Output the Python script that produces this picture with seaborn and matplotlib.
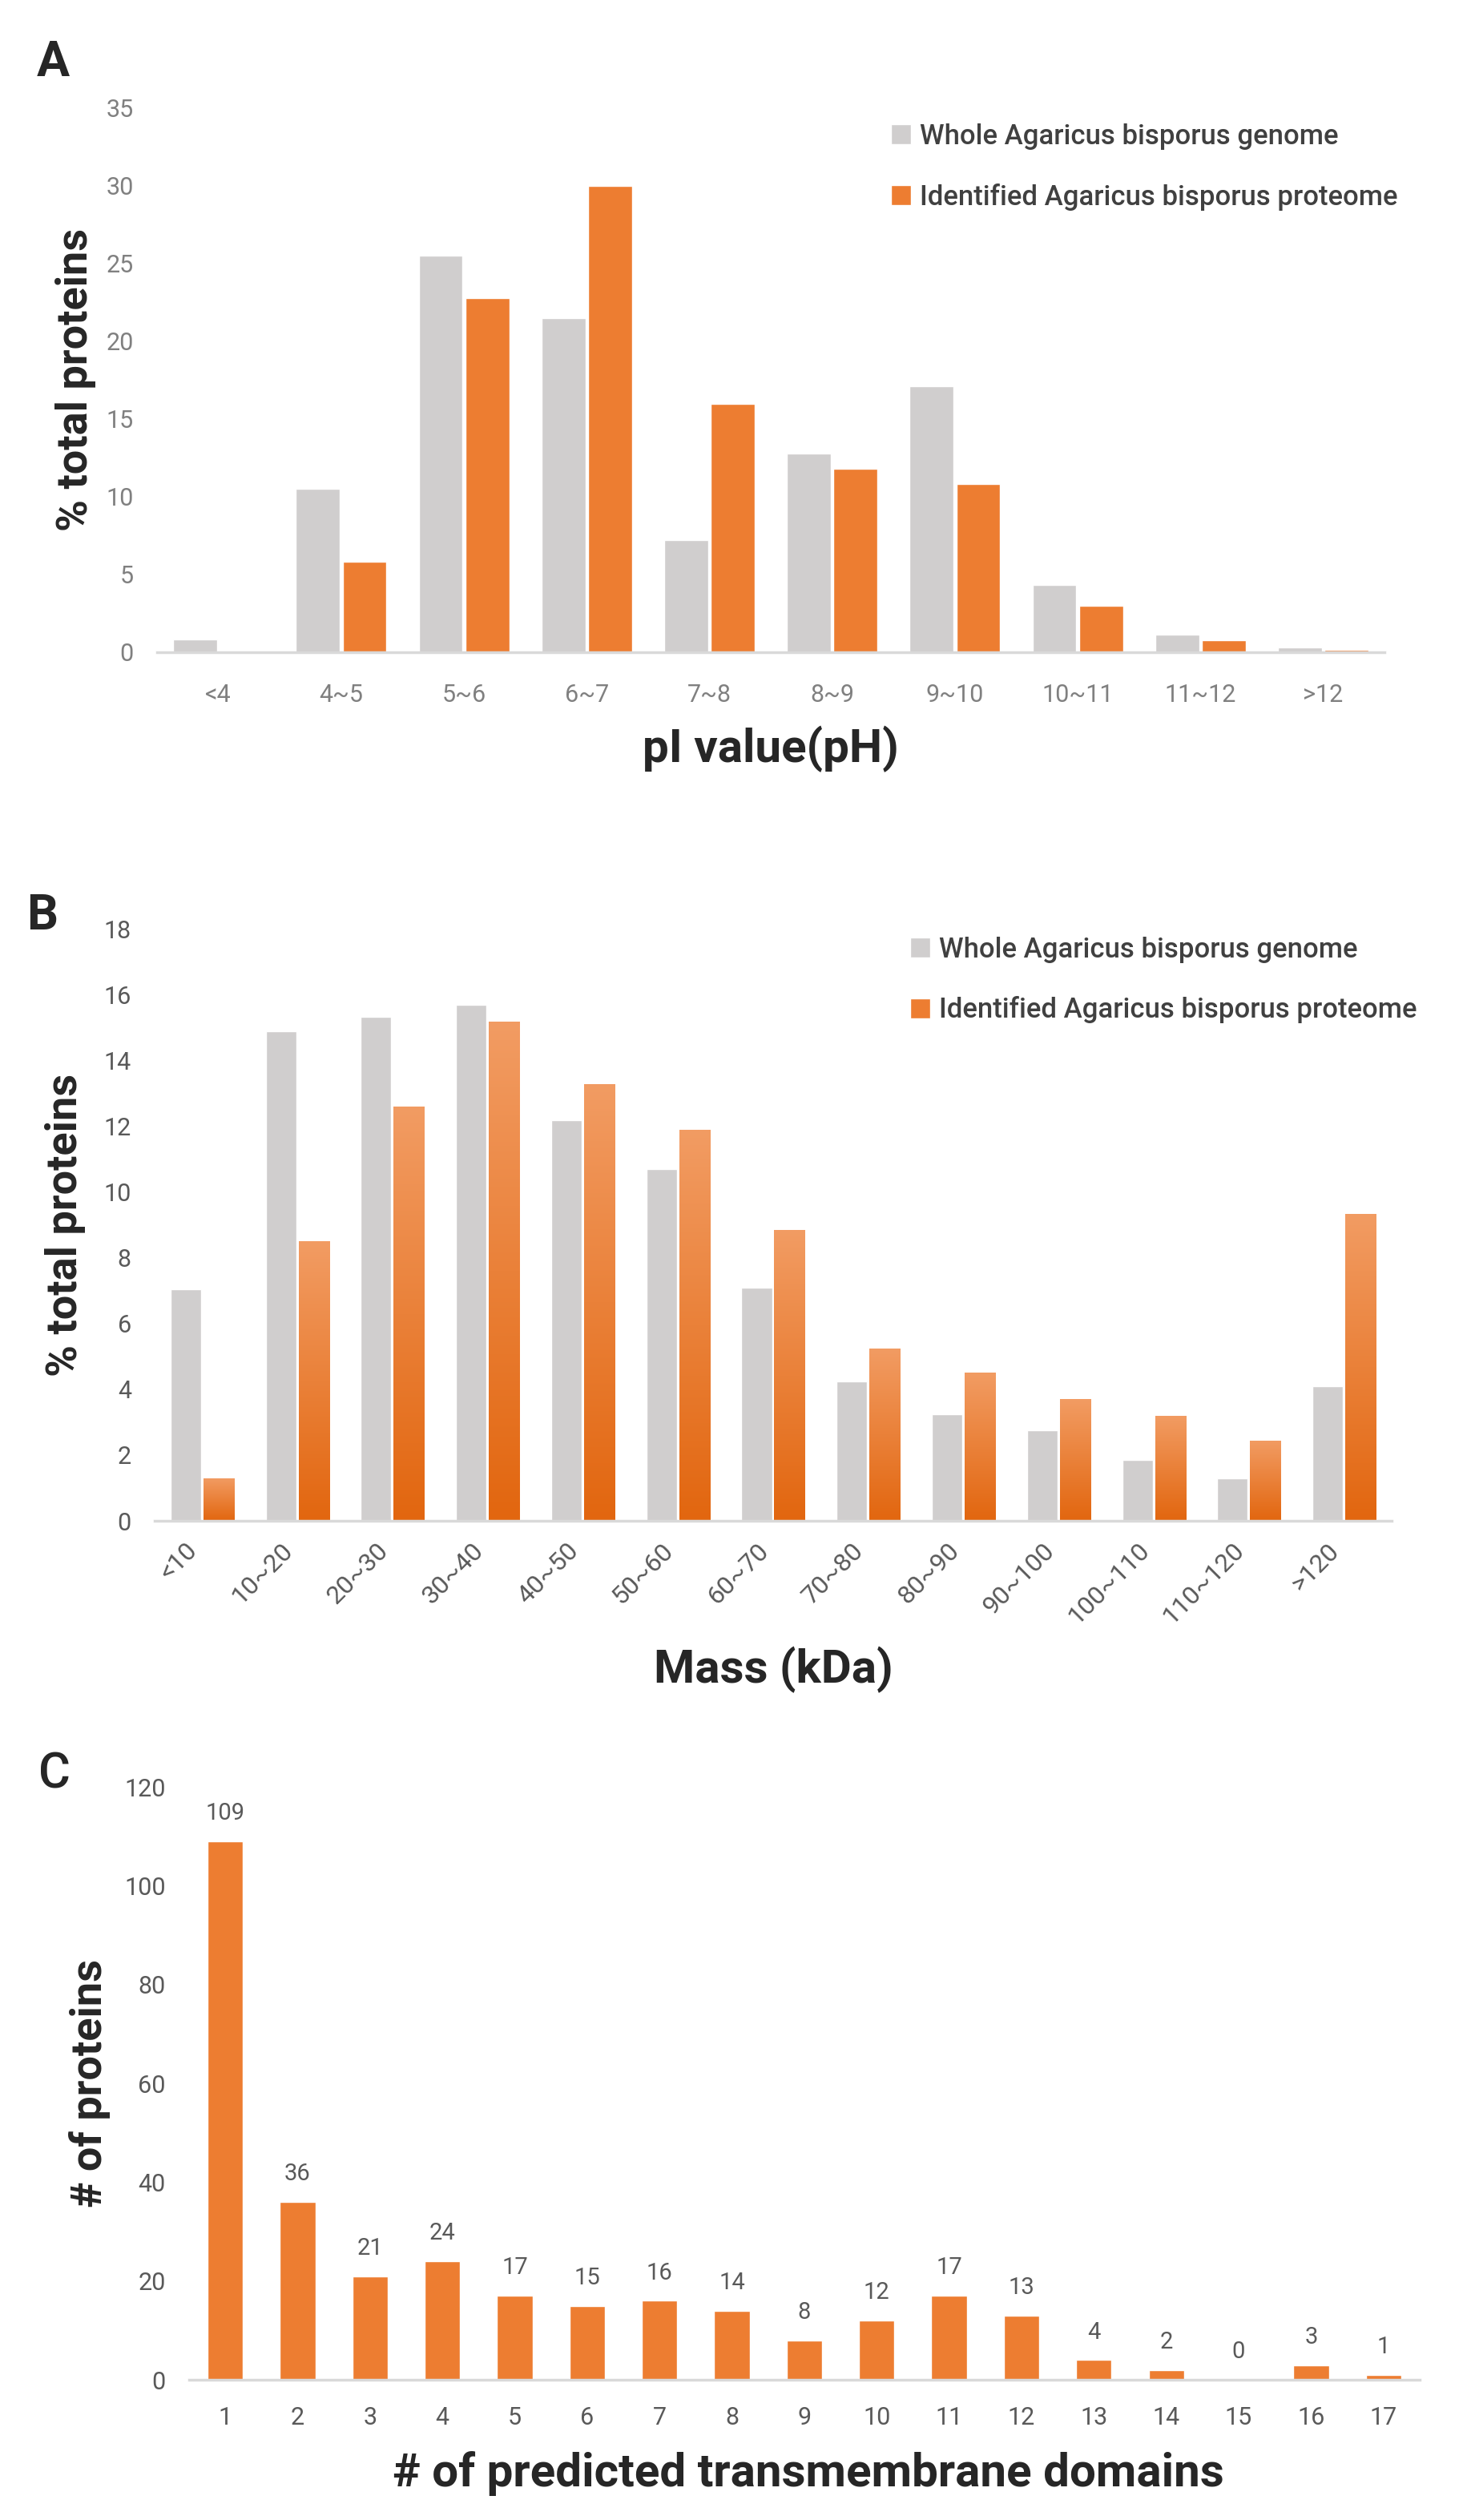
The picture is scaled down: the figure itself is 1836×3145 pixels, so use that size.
import numpy as np
import pandas as pd
import matplotlib
matplotlib.use('Agg')
import matplotlib.pyplot as plt
from matplotlib.colors import LinearSegmentedColormap
import seaborn as sns

# panel A - pI distribution
pi_bins = ['<4', '4~5', '5~6', '6~7', '7~8', '8~9', '9~10', '10~11', '11~12', '>12']
pi_genome = [0.8, 10.5, 25.5, 21.5, 7.2, 12.8, 17.1, 4.35, 1.15, 0.3]
pi_proteome = [0.0, 5.8, 22.8, 30.0, 16.0, 11.8, 10.8, 3.0, 0.75, 0.15]

# panel B - mass distribution
mass_bins = ['<10', '10~20', '20~30', '30~40', '40~50', '50~60', '60~70', '70~80',
             '80~90', '90~100', '100~110', '110~120', '>120']
mass_genome = [7.05, 14.9, 15.35, 15.7, 12.2, 10.7, 7.1, 4.25, 3.25, 2.75, 1.85, 1.3, 4.1]
mass_proteome = [1.3, 8.5, 12.6, 15.2, 13.3, 11.9, 8.85, 5.25, 4.5, 3.7, 3.2, 2.45, 9.35]

# panel C - transmembrane domains
tm_domains = [str(i) for i in range(1, 18)]
tm_counts = [109, 36, 21, 24, 17, 15, 16, 14, 8, 12, 17, 13, 4, 2, 0, 3, 1]

series_names = ['Whole Agaricus bisporus genome', 'Identified Agaricus bisporus proteome']

GRAY = '#D0CECE'
ORANGE = '#ED7D31'
FONT = ['Roboto', 'DejaVu Sans']

sns.set_style('white')
plt.rcParams['font.family'] = FONT


def long_table(bins, genome, proteome):
    return pd.DataFrame({
        'bin': bins * 2,
        'value': genome + proteome,
        'set': [series_names[0]] * len(bins) + [series_names[1]] * len(bins),
    })


def style_axis(ax, ylim, ystep, xpad, ypad, tick_color):
    ax.set_ylim(*ylim)
    ax.set_yticks(np.arange(ylim[0], ylim[1] + 0.1, ystep))
    for s in ['top', 'right', 'left']:
        ax.spines[s].set_visible(False)
    ax.spines['bottom'].set_color('#D9D9D9')
    ax.spines['bottom'].set_linewidth(2.5)
    ax.tick_params(axis='both', length=0, labelsize=22, labelcolor=tick_color)
    ax.tick_params(axis='x', pad=xpad)
    ax.tick_params(axis='y', pad=ypad)


def legend(ax, x, y):
    sns.move_legend(ax, 'upper left', bbox_to_anchor=(x, y), frameon=False, title=None,
                    handlelength=0.72, handleheight=0.72, handletextpad=0.3,
                    labelspacing=1.2, borderpad=0, borderaxespad=0,
                    labelcolor='#404040', prop={'weight': 'medium', 'size': 25})


def gradient_bars(ax, patches, top='#F29C63', bottom='#E2660F'):
    # excel style vertical gradient fill, one gradient per bar
    cmap = LinearSegmentedColormap.from_list('og', [bottom, top])
    grad = np.linspace(0, 1, 256).reshape(-1, 1)
    for p in patches:
        x0, w, h = p.get_x(), p.get_width(), p.get_height()
        if h <= 0:
            continue
        im = ax.imshow(grad, cmap=cmap, origin='lower', aspect='auto',
                       extent=[x0, x0 + w, 0, h], zorder=p.get_zorder() + 0.1)
        im.set_clip_path(p)
    ax.set_aspect('auto')


def main():
    fig = plt.figure(figsize=(18.36, 31.45), dpi=100)

    # A
    ax_a = fig.add_axes([0.1068, 0.7412, 0.8344, 0.2159])
    sns.barplot(data=long_table(pi_bins, pi_genome, pi_proteome), x='bin', y='value',
                hue='set', palette=[GRAY, ORANGE], saturation=1, width=0.76, gap=0.06,
                ax=ax_a)
    style_axis(ax_a, (0, 35), 5, 28, 21, '#808080')
    ax_a.set_xlabel('pI value(pH)', fontsize=42, fontweight='bold', va='center')
    ax_a.xaxis.set_label_coords(0.5, -0.178)
    ax_a.set_ylabel('% total proteins', fontsize=39, fontweight='bold', va='center')
    ax_a.yaxis.set_label_coords(-0.066, 0.5)
    legend(ax_a, 0.598, 0.972)

    # B
    ax_b = fig.add_axes([0.1051, 0.3965, 0.8410, 0.2347])
    sns.barplot(data=long_table(mass_bins, mass_genome, mass_proteome), x='bin', y='value',
                hue='set', palette=[GRAY, ORANGE], saturation=1, width=0.69, gap=0.07,
                ax=ax_b)
    xl = ax_b.get_xlim()
    gradient_bars(ax_b, ax_b.containers[1])
    ax_b.set_xlim(xl)
    style_axis(ax_b, (0, 18), 2, 16, 21, '#595959')
    plt.setp(ax_b.get_xticklabels(), rotation=45, ha='right', fontsize=23)
    ax_b.set_xlabel('Mass (kDa)', fontsize=42, fontweight='bold', va='center')
    ax_b.xaxis.set_label_coords(0.5, -0.252)
    ax_b.set_ylabel('% total proteins', fontsize=39, fontweight='bold', va='center')
    ax_b.yaxis.set_label_coords(-0.072, 0.5)
    legend(ax_b, 0.611, 0.988)

    # C
    ax_c = fig.add_axes([0.1285, 0.0556, 0.8366, 0.2353])
    sns.barplot(x=tm_domains, y=tm_counts, color=ORANGE, saturation=1, width=0.49, ax=ax_c)
    style_axis(ax_c, (0, 120), 20, 24, 21, '#595959')
    ax_c.bar_label(ax_c.containers[0], labels=[str(v) for v in tm_counts],
                   padding=15, fontsize=21, color='#595959')
    ax_c.set_xlabel('# of predicted transmembrane domains', fontsize=42,
                    fontweight='bold', va='center')
    ax_c.xaxis.set_label_coords(0.503, -0.158)
    ax_c.set_ylabel('# of proteins', fontsize=39, fontweight='bold', va='center')
    ax_c.yaxis.set_label_coords(-0.081, 0.5)

    # panel letters
    for letter, cx, cy, wt in [('A', 66, 78, 'bold'), ('B', 53, 1143, 'bold'),
                               ('C', 68, 2215, 'medium')]:
        fig.text(cx / 1836, 1 - cy / 3145, letter, fontsize=44, fontweight=wt,
                 va='center', ha='center')

    plt.savefig('out.png', dpi=100)


if __name__ == '__main__':
    main()
